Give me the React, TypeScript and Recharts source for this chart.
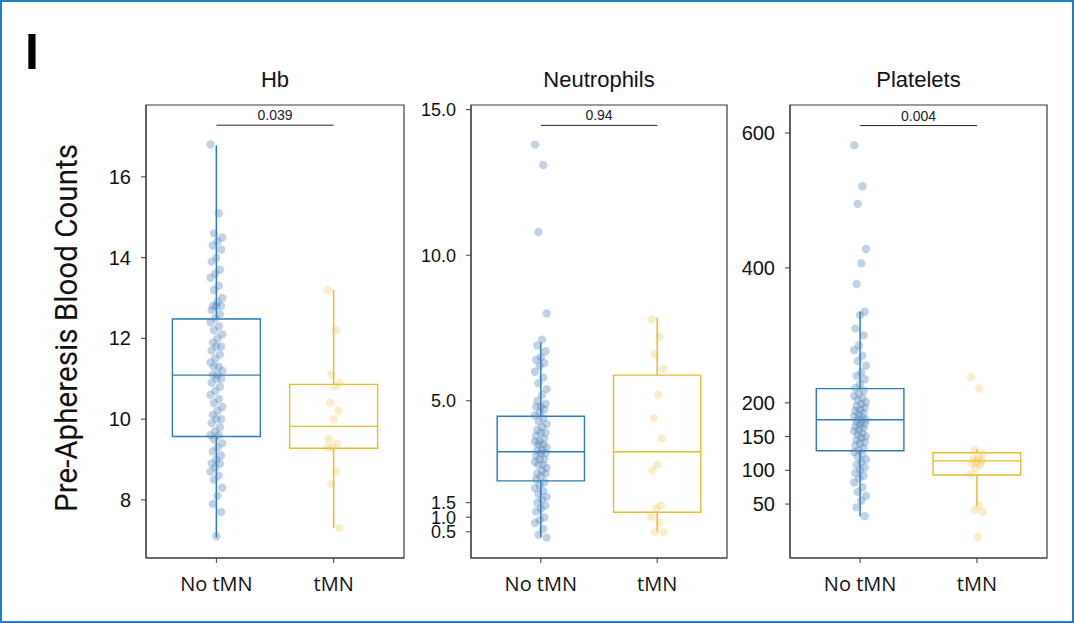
import {
  ComposedChart,
  Scatter,
  XAxis,
  YAxis,
  ReferenceArea,
  ReferenceLine,
} from "recharts";

// ---- data ----
const CATEGORIES = ["No tMN", "tMN"];

const hbNoTmn = [
  16.8, 15.1, 14.6, 14.5, 14.4, 14.3, 14.2, 14.0, 13.9, 13.7, 13.6, 13.5, 13.3,
  13.2, 13.0, 12.9, 12.8, 12.8, 12.8, 12.7, 12.6, 12.5, 12.4, 12.3, 12.2, 12.1,
  12.0, 11.9, 11.8, 11.8, 11.7, 11.6, 11.5, 11.4, 11.3, 11.3, 11.2, 11.1, 11.1,
  11.0, 11.0, 10.9, 10.8, 10.7, 10.6, 10.5, 10.4, 10.3, 10.2, 10.1, 10.0, 10.0,
  9.9, 9.8, 9.7, 9.6, 9.6, 9.5, 9.4, 9.3, 9.2, 9.1, 9.0, 8.9, 8.9, 8.8, 8.7,
  8.6, 8.5, 8.3, 8.1, 7.9, 7.7, 7.1,
];
const hbTmn = [
  13.2, 12.2, 11.1, 10.9, 10.8, 10.4, 10.2, 10.0, 9.5, 9.4, 9.3, 9.3, 8.7, 8.4,
  7.3,
];
const hbBoxNo = [7.07, 9.57, 11.09, 12.48, 16.78]; // min, q1, median, q3, max
const hbBoxT = [7.3, 9.28, 9.82, 10.86, 13.2];
const hbTicks = [8, 10, 12, 14, 16];

const neuNoTmn = [
  13.8, 13.1, 10.8, 8.0, 7.1, 6.9, 6.7, 6.5, 6.4, 6.3, 6.2, 6.0, 5.8, 5.6, 5.4,
  5.2, 5.0, 4.9, 4.8, 4.8, 4.7, 4.6, 4.5, 4.4, 4.3, 4.2, 4.1, 4.0, 3.9, 3.9,
  3.8, 3.7, 3.6, 3.6, 3.5, 3.5, 3.4, 3.3, 3.3, 3.2, 3.2, 3.1, 3.0, 3.0, 2.9,
  2.8, 2.8, 2.7, 2.6, 2.5, 2.5, 2.4, 2.3, 2.2, 2.1, 2.0, 1.9, 1.8, 1.7, 1.6,
  1.5, 1.4, 1.3, 1.2, 1.0, 0.9, 0.8, 0.6, 0.4, 0.3,
];
const neuTmn = [
  7.8, 7.2, 6.6, 6.1, 5.2, 4.4, 3.7, 2.8, 2.6, 1.4, 1.3, 1.0, 0.8, 0.5, 0.5,
];
const neuBoxNo = [0.31, 2.25, 3.25, 4.47, 7.0];
const neuBoxT = [0.5, 1.17, 3.25, 5.88, 7.85];
const neuTicks = [0.5, 1.0, 1.5, 5.0, 10.0, 15.0];

const pltNoTmn = [
  582, 521, 495, 428, 407, 376, 335, 330, 310, 300, 285, 278, 270, 262, 255,
  245, 240, 235, 228, 222, 218, 214, 210, 207, 204, 201, 198, 195, 193, 190,
  188, 185, 183, 180, 178, 176, 175, 173, 171, 169, 167, 165, 163, 160, 158,
  155, 153, 150, 148, 145, 142, 140, 137, 133, 130, 127, 124, 120, 116, 112,
  108, 104, 100, 96, 92, 88, 82, 75, 68, 62, 55, 45, 32,
];
const pltTmn = [238, 221, 130, 125, 118, 116, 114, 112, 110, 108, 103, 95, 47, 41, 38, 1];
const pltBoxNo = [32, 129, 175, 221, 335];
const pltBoxT = [47, 93, 114, 126, 131];
const pltTicks = [50, 100, 150, 200, 400, 600];

const pValues = ["0.039", "0.94", "0.004"];

// ---- styling ----
const BLUE = "#2b7bba";
const YELLOW = "#e8bb2e";
const FRAME = "#3a3a3a";
const HALF = 0.375;

// small deterministic horizontal spread, like a strip plot
const jitter = (i: number) => ((((i * 7) % 11) - 5) / 5) * 0.05;

const toPoints = (values: number[], cat: number) =>
  values.map((v, i) => ({ x: cat + jitter(i), y: v }));

function Dot(fill: string, opacity: number) {
  return (p: any) => (
    <circle cx={p.cx} cy={p.cy} r={4.2} fill={fill} fillOpacity={opacity} />
  );
}

interface PanelProps {
  left: number;
  yAxisWidth: number;
  plotWidth: number;
  title: string;
  noTmn: number[];
  tmn: number[];
  boxNo: number[];
  boxT: number[];
  domain: [number, number];
  ticks: number[];
  fmt: (v: number) => string;
  tickFont: number;
  pValue: string;
  bracketY: number;
}

function Panel(props: PanelProps) {
  const {
    left,
    yAxisWidth,
    plotWidth,
    title,
    noTmn,
    tmn,
    boxNo,
    boxT,
    domain,
    ticks,
    fmt,
    tickFont,
    pValue,
    bracketY,
  } = props;
  const width = yAxisWidth + plotWidth + 6;
  const boxes: [number, number[], string][] = [
    [0, boxNo, BLUE],
    [1, boxT, YELLOW],
  ];
  return (
    <div style={{ position: "absolute", left, top: 0 }}>
      <div
        style={{
          position: "absolute",
          left: yAxisWidth,
          width: plotWidth,
          top: 69,
          textAlign: "center",
          fontFamily: "'Liberation Sans', Arial, sans-serif",
          fontSize: 22,
          lineHeight: 1,
          color: "#111",
        }}
      >
        {title}
      </div>
      <ComposedChart
        width={width}
        height={603}
        margin={{ top: 105, right: 6, bottom: 0, left: 0 }}
      >
        <XAxis
          type="number"
          dataKey="x"
          domain={[-0.6, 1.6]}
          ticks={[0, 1]}
          allowDataOverflow
          interval={0}
          tickFormatter={(v: number) => CATEGORIES[v]}
          tick={{
            fill: "#111",
            fontSize: 20,
            fontFamily: "'Open Sans', sans-serif",
          }}
          tickSize={5}
          tickMargin={14}
          tickLine={{ stroke: FRAME }}
          axisLine={{ stroke: FRAME }}
          height={45}
        />
        <YAxis
          type="number"
          domain={domain}
          ticks={ticks}
          allowDataOverflow
          interval={0}
          tickFormatter={fmt}
          tick={{
            fill: "#111",
            fontSize: tickFont,
            fontFamily: "'Liberation Sans', Arial, sans-serif",
          }}
          tickSize={5}
          tickMargin={10}
          tickLine={{ stroke: FRAME }}
          axisLine={{ stroke: FRAME }}
          width={yAxisWidth}
        />
        <Scatter
          data={toPoints(noTmn, 0)}
          dataKey="y"
          isAnimationActive={false}
          shape={Dot("#4a80b8", 0.35)}
        />
        <Scatter
          data={toPoints(tmn, 1)}
          dataKey="y"
          isAnimationActive={false}
          shape={Dot("#f0c24a", 0.3)}
        />
        {boxes.map(([cat, box, color]) => (
          <ReferenceLine
            key={`wl${cat}`}
            segment={[
              { x: cat, y: box[0] },
              { x: cat, y: box[1] },
            ]}
            stroke={color}
            strokeWidth={1.5}
            ifOverflow="visible"
          />
        ))}
        {boxes.map(([cat, box, color]) => (
          <ReferenceLine
            key={`wh${cat}`}
            segment={[
              { x: cat, y: box[3] },
              { x: cat, y: box[4] },
            ]}
            stroke={color}
            strokeWidth={1.5}
            ifOverflow="visible"
          />
        ))}
        {boxes.map(([cat, box, color]) => (
          <ReferenceArea
            key={`b${cat}`}
            x1={cat - HALF}
            x2={cat + HALF}
            y1={box[1]}
            y2={box[3]}
            fill="none"
            fillOpacity={0}
            stroke={color}
            strokeWidth={1.4}
            ifOverflow="visible"
          />
        ))}
        {boxes.map(([cat, box, color]) => (
          <ReferenceLine
            key={`m${cat}`}
            segment={[
              { x: cat - HALF, y: box[2] },
              { x: cat + HALF, y: box[2] },
            ]}
            stroke={color}
            strokeWidth={1.4}
            ifOverflow="visible"
          />
        ))}
        <ReferenceLine
          segment={[
            { x: 0, y: bracketY },
            { x: 1, y: bracketY },
          ]}
          stroke="#222"
          strokeWidth={1}
          ifOverflow="visible"
          label={{
            value: pValue,
            position: "top",
            fill: "#222",
            fontSize: 14,
            fontFamily: "'Liberation Sans', Arial, sans-serif",
          }}
        />
        <ReferenceArea
          x1={-0.6}
          x2={1.6}
          y1={domain[0]}
          y2={domain[1]}
          fill="none"
          fillOpacity={0}
          stroke={FRAME}
          strokeWidth={1.2}
          ifOverflow="visible"
        />
      </ComposedChart>
    </div>
  );
}

export default function App() {
  return (
    <div
      style={{
        position: "fixed",
        left: 0,
        top: 0,
        width: 1074,
        height: 623,
        background: "#fff",
        overflow: "hidden",
      }}
    >
      <svg
        width={140}
        height={623}
        style={{ position: "absolute", left: 0, top: 0 }}
      >
        <text
          x={25}
          y={69}
          fontSize={50}
          fontWeight="bold"
          fontFamily="'Liberation Sans', Arial, sans-serif"
          fill="#000"
        >
          I
        </text>
        <text
          transform="translate(77, 328) rotate(-90)"
          textAnchor="middle"
          fontSize={31}
          textLength={368}
          lengthAdjust="spacingAndGlyphs"
          fontFamily="Roboto, 'Liberation Sans', sans-serif"
          fill="#111"
        >
          Pre-Apheresis Blood Counts
        </text>
      </svg>
      <Panel
        left={90}
        yAxisWidth={56}
        plotWidth={258}
        title="Hb"
        noTmn={hbNoTmn}
        tmn={hbTmn}
        boxNo={hbBoxNo}
        boxT={hbBoxT}
        domain={[6.56, 17.78]}
        ticks={hbTicks}
        fmt={(v) => String(v)}
        tickFont={20}
        pValue={pValues[0]}
        bracketY={17.28}
      />
      <Panel
        left={410}
        yAxisWidth={61}
        plotWidth={256}
        title="Neutrophils"
        noTmn={neuNoTmn}
        tmn={neuTmn}
        boxNo={neuBoxNo}
        boxT={neuBoxT}
        domain={[-0.4, 15.16]}
        ticks={neuTicks}
        fmt={(v) => v.toFixed(1)}
        tickFont={18}
        pValue={pValues[1]}
        bracketY={14.46}
      />
      <Panel
        left={730}
        yAxisWidth={60}
        plotWidth={257}
        title="Platelets"
        noTmn={pltNoTmn}
        tmn={pltTmn}
        boxNo={pltBoxNo}
        boxT={pltBoxT}
        domain={[-30, 641.5]}
        ticks={pltTicks}
        fmt={(v) => String(v)}
        tickFont={20}
        pValue={pValues[2]}
        bracketY={611}
      />
      <div
        style={{
          position: "absolute",
          inset: 0,
          border: "2px solid #1f7fc0",
          pointerEvents: "none",
        }}
      />
    </div>
  );
}
